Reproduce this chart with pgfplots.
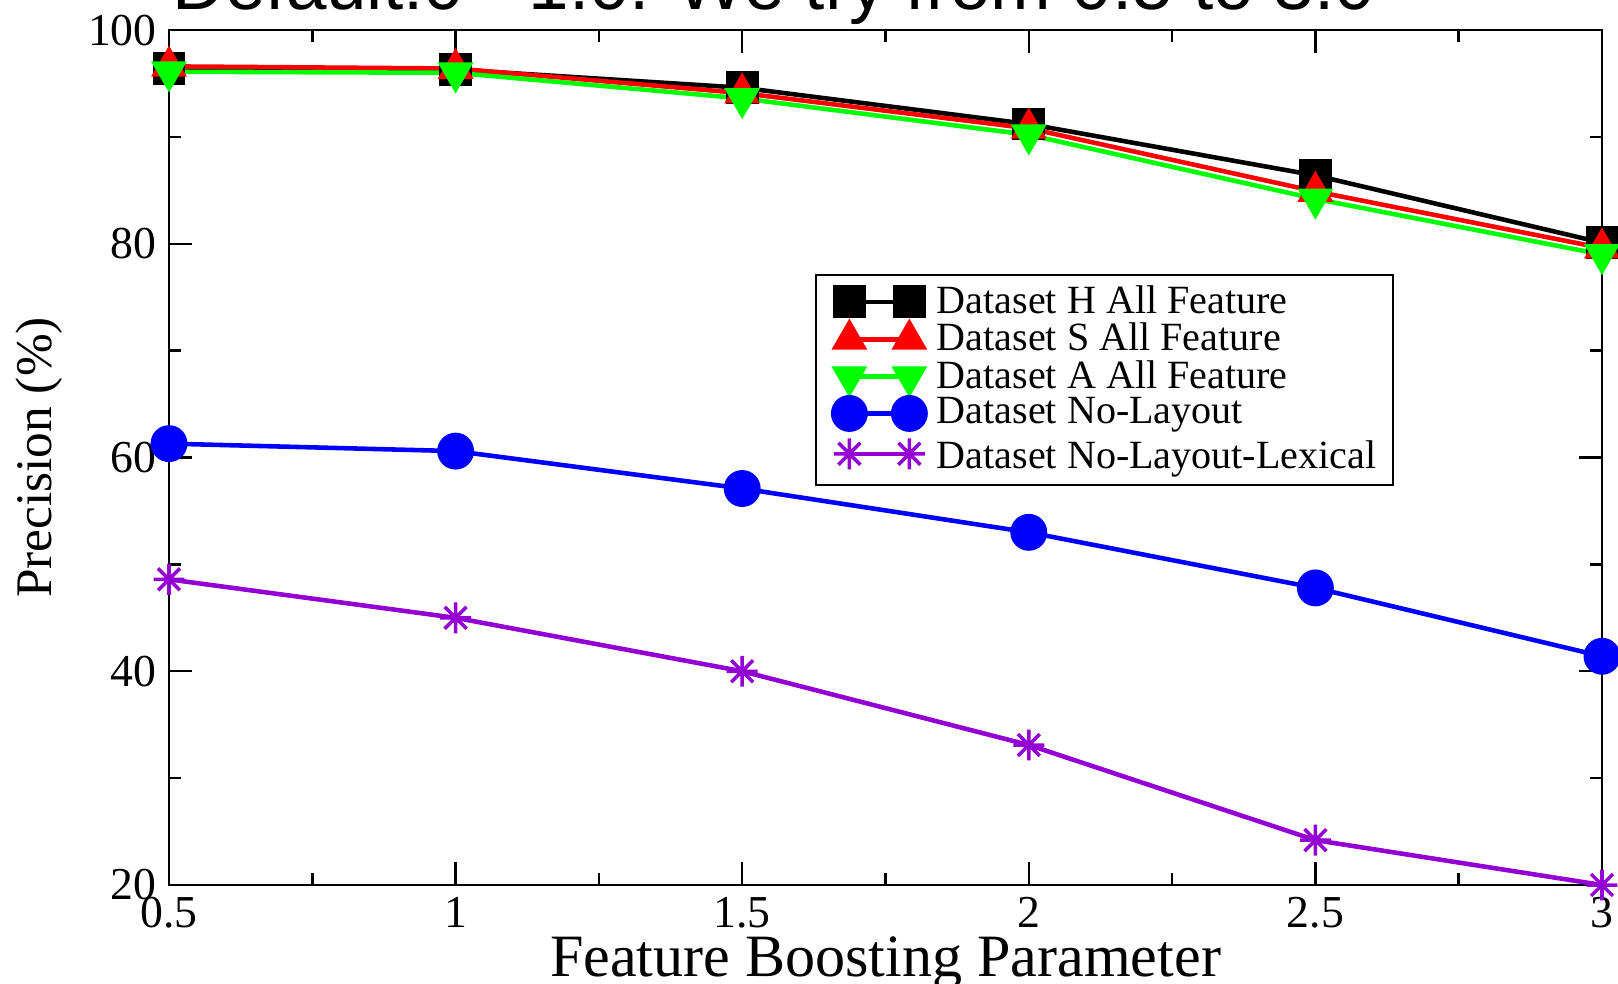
\documentclass[border=0pt]{standalone}
\usepackage{pgfplots}
\pgfplotsset{compat=1.18}
\usepackage{fontspec}
\setmainfont{Liberation Serif}
\newfontfamily\titlefont{Liberation Sans}
\definecolor{mypurple}{RGB}{148,0,211}
\definecolor{mygreen}{RGB}{0,255,0}
\pgfdeclareplotmark{ast8}{%
  \pgfpathmoveto{\pgfqpoint{0pt}{\pgfplotmarksize}}\pgfpathlineto{\pgfqpoint{0pt}{-\pgfplotmarksize}}%
  \pgfpathmoveto{\pgfqpoint{\pgfplotmarksize}{0pt}}\pgfpathlineto{\pgfqpoint{-\pgfplotmarksize}{0pt}}%
  \pgfpathmoveto{\pgfpointpolar{45}{\pgfplotmarksize}}\pgfpathlineto{\pgfpointpolar{225}{\pgfplotmarksize}}%
  \pgfpathmoveto{\pgfpointpolar{135}{\pgfplotmarksize}}\pgfpathlineto{\pgfpointpolar{315}{\pgfplotmarksize}}%
  \pgfusepathqstroke}
\begin{document}
\begin{tikzpicture}
\begin{axis}[
  at={(0,0)}, anchor=south west,
  scale only axis, width=14.33cm, height=8.55cm,
  xmin=0.5, xmax=3, ymin=20, ymax=100,
  xtick={0.5,1,1.5,2,2.5,3}, xticklabels={0.5,1,1.5,2,2.5,3},
  minor xtick={0.75,1.25,1.75,2.25,2.75},
  ytick={20,40,60,80,100}, minor ytick={30,50,70,90},
  tick align=inside, major tick length=0.23cm, minor tick length=0.12cm,
  every tick/.style={black, line width=0.7pt},
  axis line style={line width=0.8pt},
  /pgf/number format/assume math mode=true,
  tick label style={font=\fontsize{13}{14}\selectfont},
  xlabel={Feature Boosting Parameter},
  ylabel={Precision (\%)},
  xlabel style={font=\fontsize{17.1}{18}\selectfont, at={(axis description cs:0.5,-0.107)}, anchor=base},
  ylabel style={font=\fontsize{14.6}{17}\selectfont, at={(axis description cs:-0.082,0.5)}, anchor=base},
  clip=false,
  legend cell align=left,
  legend style={at={(0.451,0.715)}, anchor=north west, font=\fontsize{11.4}{12}\selectfont,
    draw=black, line width=0.6pt, inner xsep=4.4pt, inner ysep=1pt, row sep=-2.75pt,
    nodes={inner xsep=2.85pt}},
  legend image code/.code={\draw[#1] plot coordinates {(0cm,0cm) (0.6cm,0cm)};},
  every axis plot/.append style={line width=1.3pt},
]
\addplot[black, mark=square*, mark size=4.4pt, mark options={solid, line width=0.5pt}]
 coordinates {(0.5,96.4) (1,96.3) (1.5,94.6) (2,91.2) (2.5,86.4) (3,80.1)};
\addlegendentry{Dataset H All Feature}
\addplot[red, mark=triangle*, mark size=5.4pt, mark options={solid, line width=0.5pt}]
 coordinates {(0.5,96.6) (1,96.4) (1.5,94.1) (2,90.8) (2.5,84.9) (3,79.6)};
\addlegendentry{Dataset S All Feature}
\addplot[mygreen, mark=triangle*, mark size=5.4pt, mark options={solid, rotate=180, line width=0.5pt}]
 coordinates {(0.5,96.1) (1,96.0) (1.5,93.6) (2,90.2) (2.5,84.2) (3,79.0)};
\addlegendentry{Dataset A All Feature}
\addplot[blue, mark=*, mark size=5pt, mark options={solid, line width=0.5pt}]
 coordinates {(0.5,61.3) (1,60.6) (1.5,57.1) (2,53.0) (2.5,47.8) (3,41.4)};
\addlegendentry{Dataset No-Layout}
\addplot[mypurple, mark=ast8, mark size=4.4pt, mark options={solid, line width=1pt}]
 coordinates {(0.5,48.6) (1,45.0) (1.5,40.0) (2,33.1) (2.5,24.2) (3,20.0)};
\addlegendentry{\rule{0pt}{10pt}Dataset No-Layout-Lexical\kern-2.5pt}
\end{axis}
\node[anchor=base, font=\titlefont\fontsize{20.7}{24}\selectfont] at (6.05cm,8.76cm) {Default:0 - 1.0. We try from 0.5 to 3.0};
\pgfresetboundingbox
\useasboundingbox (-1.69cm,-0.98cm) rectangle (14.49cm,8.85cm);
\end{tikzpicture}
\end{document}
